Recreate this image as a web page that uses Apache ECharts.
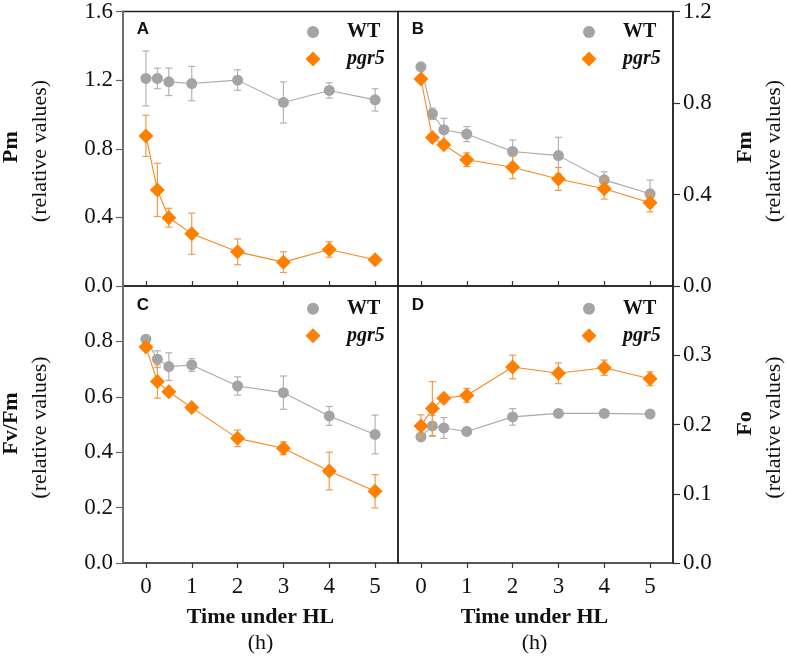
<!DOCTYPE html>
<html>
<head>
<meta charset="utf-8">
<script src="https://cdn.jsdelivr.net/npm/echarts@6/dist/echarts.min.js"></script>
<style>html,body{margin:0;padding:0;background:#fff}#chart{width:787px;height:656px}</style>
</head>
<body>
<div id="chart"></div>
<script>
// ---- data ----
const times = [0, 0.25, 0.5, 1, 2, 3, 4, 5];
const xTickValues = [0, 1, 2, 3, 4, 5];

const pmWT = [1.21, 1.21, 1.19, 1.18, 1.20, 1.07, 1.14, 1.085];
const pmWTErr = [0.16, 0.06, 0.08, 0.10, 0.06, 0.12, 0.045, 0.065];
const pmPgr5 = [0.875, 0.56, 0.398, 0.305, 0.199, 0.139, 0.213, 0.153];
const pmPgr5Err = [0.12, 0.155, 0.055, 0.12, 0.075, 0.06, 0.045, 0.01];

const fmWT = [0.958, 0.753, 0.683, 0.664, 0.588, 0.57, 0.464, 0.403];
const fmWTErr = [0.01, 0.025, 0.05, 0.033, 0.05, 0.08, 0.035, 0.06];
const fmPgr5 = [0.905, 0.649, 0.617, 0.552, 0.519, 0.468, 0.425, 0.364];
const fmPgr5Err = [0.01, 0.01, 0.01, 0.03, 0.05, 0.05, 0.045, 0.04];

const fvWT = [0.808, 0.736, 0.709, 0.715, 0.639, 0.615, 0.531, 0.464];
const fvWTErr = [0.01, 0.03, 0.05, 0.023, 0.033, 0.06, 0.034, 0.07];
const fvPgr5 = [0.78, 0.655, 0.618, 0.561, 0.45, 0.414, 0.332, 0.259];
const fvPgr5Err = [0.01, 0.06, 0.01, 0.01, 0.03, 0.023, 0.068, 0.06];

const foWT = [0.182, 0.198, 0.195, 0.19, 0.211, 0.216, 0.216, 0.215];
const foWTErr = [0.004, 0.015, 0.015, 0.004, 0.012, 0.004, 0.004, 0.004];
const foPgr5 = [0.198, 0.223, 0.238, 0.242, 0.283, 0.274, 0.282, 0.266];
const foPgr5Err = [0.016, 0.039, 0.005, 0.01, 0.017, 0.015, 0.011, 0.01];

const panelLetters = ['A', 'B', 'C', 'D'];
const yMax = [1.6, 1.2, 1.0, 0.4];
const yInterval = [0.4, 0.4, 0.2, 0.1];
const yTitles = ['Pm', 'Fm', 'Fv/Fm', 'Fo'];
const ySubTitle = '(relative values)';
const xTitle = 'Time under HL';
const xUnit = '(h)';

// ---- styling / layout ----
const SERIF = "Liberation Serif";
const SANS = "Liberation Sans";
const GRAY = '#a4a4a7', GRAY_LINE = '#a9a9a9', GRAY_ERR = '#b3b3b3';
const ORANGE = '#ff8000', ORANGE_LINE = '#f7891c', ORANGE_ERR = '#f59b45';

const grids = [
  {left: 123, top: 10, width: 275, height: 276},
  {left: 398, top: 10, width: 275, height: 276},
  {left: 123, top: 286, width: 275, height: 277},
  {left: 398, top: 286, width: 275, height: 277}
];

const panelData = [
  [pmWT, pmWTErr, pmPgr5, pmPgr5Err],
  [fmWT, fmWTErr, fmPgr5, fmPgr5Err],
  [fvWT, fvWTErr, fvPgr5, fvPgr5Err],
  [foWT, foWTErr, foPgr5, foPgr5Err]
];

function pairs(vals) { return times.map((t, i) => [t, vals[i]]); }
function errs(vals, e) { return times.map((t, i) => [t, vals[i] - e[i], vals[i] + e[i]]); }

function errRender(color) {
  return function (params, api) {
    const x = api.value(0);
    const lo = api.coord([x, api.value(1)]);
    const hi = api.coord([x, api.value(2)]);
    const hw = 3.5;
    const st = {stroke: color, lineWidth: 1.2};
    return {
      type: 'group',
      children: [
        {type: 'line', shape: {x1: lo[0], y1: lo[1], x2: hi[0], y2: hi[1]}, style: st},
        {type: 'line', shape: {x1: lo[0] - hw, y1: lo[1], x2: lo[0] + hw, y2: lo[1]}, style: st},
        {type: 'line', shape: {x1: hi[0] - hw, y1: hi[1], x2: hi[0] + hw, y2: hi[1]}, style: st}
      ]
    };
  };
}

function txt(x, y, text, size, weight, family, rot) {
  return {type: 'text', x: x, y: y, rotation: rot || 0, z: 10,
    style: {text: text, fontSize: size, fontWeight: weight, fontFamily: family, fill: '#111',
      align: 'center', verticalAlign: 'middle'}};
}

const xAxes = [], yAxes = [], series = [], legends = [], graphics = [];

grids.forEach((g, i) => {
  const bottom = i >= 2;
  const right = i % 2 === 1;
  xAxes.push({
    type: 'value', gridIndex: i, min: -0.5, max: 5.5,
    splitLine: {show: false},
    axisLine: {show: false},
    axisTick: {show: true, inside: !bottom, length: 5, customValues: xTickValues,
      lineStyle: {color: '#333', width: 1.2}},
    axisLabel: {show: bottom, customValues: xTickValues, margin: 12,
      fontFamily: SERIF, fontSize: 23, color: '#111'}
  });
  yAxes.push({
    type: 'value', gridIndex: i, min: 0, max: yMax[i], interval: yInterval[i],
    position: right ? 'right' : 'left',
    splitLine: {show: false},
    axisLine: {show: true, onZero: false, lineStyle: {color: right ? '#222' : '#707070', width: right ? 1.5 : 2}},
    axisTick: {show: true, inside: false, length: 7, lineStyle: {color: right ? '#333' : '#666', width: 1.2}},
    axisLabel: {margin: 10, fontFamily: SERIF, fontSize: 23, color: '#111',
      showMaxLabel: !bottom,
      formatter: v => v.toFixed(1)}
  });
  const [wt, wtE, pg, pgE] = panelData[i];
  series.push({
    type: 'custom', name: 'WT err ' + i, xAxisIndex: i, yAxisIndex: i, z: 1,
    renderItem: errRender(GRAY_ERR), data: errs(wt, wtE), encode: {x: 0, y: [1, 2]}, silent: true
  });
  series.push({
    type: 'line', name: 'WT', xAxisIndex: i, yAxisIndex: i, z: 2,
    data: pairs(wt), symbol: 'circle', symbolSize: 11,
    itemStyle: {color: GRAY}, lineStyle: {color: GRAY_LINE, width: 1.1}
  });
  series.push({
    type: 'custom', name: 'pgr5 err ' + i, xAxisIndex: i, yAxisIndex: i, z: 3,
    renderItem: errRender(ORANGE_ERR), data: errs(pg, pgE), encode: {x: 0, y: [1, 2]}, silent: true
  });
  series.push({
    type: 'line', name: 'pgr5', xAxisIndex: i, yAxisIndex: i, z: 4,
    data: pairs(pg), symbol: 'diamond', symbolSize: 15,
    itemStyle: {color: ORANGE}, lineStyle: {color: ORANGE_LINE, width: 1.1}
  });

  // legends (one per entry so icon sizes can differ)
  const cx = g.left + 190 + (right ? 1 : 0);
  const cy1 = g.top + 22 + (bottom ? 0.7 : 0);
  const rich = {
    w: {fontFamily: SERIF, fontSize: 20, fontWeight: 'bold', color: '#111', lineHeight: 20},
    p: {fontFamily: SERIF, fontSize: 20, fontWeight: 'bold', fontStyle: 'italic', color: '#111', lineHeight: 20}
  };
  legends.push({
    data: [{name: 'WT', icon: 'circle'}],
    left: cx - 6, top: cy1 - 10, padding: 0, itemWidth: 12, itemHeight: 12, selectedMode: false,
    formatter: n => '{sa|}{w|' + n + '}',
    textStyle: {rich: Object.assign({sa: {width: 23}}, rich)}
  });
  legends.push({
    data: [{name: 'pgr5', icon: 'diamond'}],
    left: cx - 7.5, top: cy1 + 17, padding: 0, itemWidth: 15, itemHeight: 15, selectedMode: false,
    formatter: n => '{sb|}{p|' + n + '}',
    textStyle: {rich: Object.assign({sb: {width: 21.5}}, rich)}
  });

  // panel letter
  graphics.push(txt(g.left + 20, g.top + 19, panelLetters[i], 17, 'bold', SANS));

  // y titles
  const ycen = g.top + g.height / 2;
  graphics.push(txt(right ? 745 : 11, ycen - 1, yTitles[i], 22, 'bold', SERIF, Math.PI / 2));
  graphics.push(txt(right ? 774 : 40, ycen + 3, ySubTitle, 22, 'normal', SERIF, Math.PI / 2));

  if (bottom) {
    const xc = g.left + g.width / 2 - (right ? 1 : 0);
    graphics.push(txt(xc, 617, xTitle, 22, 'bold', SERIF));
    graphics.push(txt(xc, 643, xUnit, 22, 'normal', SERIF));
  }
});

const chart = echarts.init(document.getElementById('chart'), null, {renderer: 'canvas'});
chart.setOption({
  animation: false,
  backgroundColor: '#fff',
  grid: grids.map(g => Object.assign({show: true, borderColor: '#222', borderWidth: 1.5, backgroundColor: 'transparent'}, g)),
  xAxis: xAxes,
  yAxis: yAxes,
  legend: legends,
  series: series,
  graphic: graphics
});
</script>
</body>
</html>
